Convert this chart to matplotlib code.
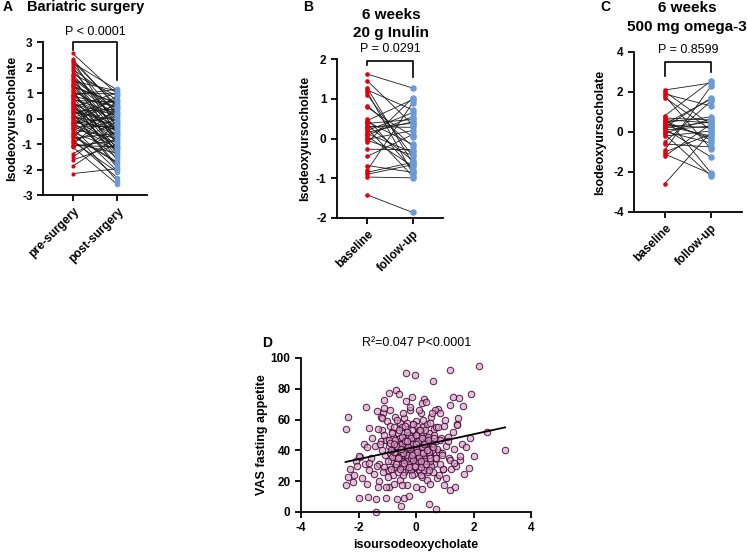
import numpy as np
import matplotlib
matplotlib.use("Agg")
import matplotlib.pyplot as plt

plt.rcParams['font.family'] = ['Liberation Sans', 'DejaVu Sans']
plt.rcParams['font.weight'] = 'bold'
plt.rcParams['axes.labelweight'] = 'bold'
plt.rcParams['axes.unicode_minus'] = False
plt.rcParams['axes.linewidth'] = 1.3

RED = '#e3000f'
BLUE = '#6b9bd6'

# A - bariatric surgery (pre, post pairs)
pre_surgery = [2.55, 2.32, 2.27, 2.18, 2.11, 2.02, 1.93, 1.88, 1.74, 1.66, 1.61, 1.52, 1.47, 1.41, 1.33,
               1.28, 1.19, 1.12, 1.07, 0.98, 0.94, 0.88, 0.83, 0.79, 0.71, 0.66, 0.62, 0.57, 0.49, 0.44,
               0.41, 0.36, 0.29, 0.25, 0.21, 0.14, 0.09, 0.05, 0.01, -0.04, -0.08, -0.13, -0.19, -0.22,
               -0.27, -0.33, -0.38, -0.42, -0.47, -0.55, -0.61, -0.66, -0.72, -0.78, -0.84, -0.91, -0.97,
               -1.02, -1.06, -1.09, -1.12, -1.38, -1.52, -1.63, -1.87, -2.16, 0.53, 0.77, 1.02, 0.18,
               -0.51, 1.71, 0.92, -0.16, 0.68, 1.24, 0.33, -0.29, 0.60, 1.55, -0.70, 0.02, 2.24, -0.90, 1.37]
post_surgery = [0.95, 0.42, -0.35, 1.12, 0.15, -0.62, 0.71, -0.18, 0.88, -1.05, 0.33, -0.47, 1.08, 0.05, -0.83,
                0.58, -0.26, -1.42, 0.21, 0.97, -0.71, 0.47, -1.18, -0.12, 0.64, -0.55, -1.63, 0.12, -0.92, 1.01,
                -0.38, -1.27, 0.36, -0.08, -1.85, 0.78, -0.66, -0.21, -1.08, 0.52, -0.44, -1.56, 0.08, -0.97,
                0.91, -0.31, -2.05, -0.78, 0.27, -1.21, -0.02, -1.71, 0.69, -0.58, -2.32, -0.15, -1.36,
                0.44, -1.11, -0.86, -2.58, -0.52, -0.24, -1.02, -0.73, -1.97, -1.48, 0.18, -0.89, -1.93,
                -2.45, -0.06, 1.15, -0.41, -1.31, 0.61, -0.63, -1.15, -0.33, 0.26, -1.74, 0.74, 0.49, -2.10, -0.57]

# B - 6 weeks 20 g inulin
inulin_base = [1.62, 1.45, 1.27, 1.22, 1.17, 1.10, 0.83, 0.78, 0.50, 0.45, 0.38, 0.33, 0.30, 0.25, 0.20, 0.15,
               0.12, 0.05, -0.02, -0.10, -0.27, -0.45, -0.68, -0.80, -0.85, -0.90, -0.97, -1.42, 0.42, 0.08,
               -0.05, 0.28]
inulin_follow = [1.27, 0.35, -0.62, 0.72, -0.88, -0.45, -0.20, 0.05, -0.78, 0.98, 0.48, -0.55, 0.28, -0.95, 0.65,
                 0.42, -0.35, -0.70, 0.20, 1.02, -0.28, 0.10, -0.85, 0.90, -0.60, -0.66, -0.99, -1.86, -0.15,
                 0.55, -0.42, 0.38]

# C - 6 weeks 500 mg omega-3
omega_base = [2.10, 2.02, 1.90, 1.80, 1.72, 0.82, 0.75, 0.70, 0.62, 0.55, 0.48, 0.40, 0.35, 0.30, 0.22, 0.15,
              0.10, 0.02, -0.05, -0.12, -0.20, -0.50, -0.60, -0.90, -1.00, -1.10, -1.20, -2.58, 0.25, 0.45]
omega_follow = [2.45, 0.35, 1.30, -0.85, 0.10, 2.55, -2.05, 0.60, 0.45, -0.40, 0.75, 1.65, 0.20, -0.20, 0.50,
                -1.25, 0.30, -0.55, 0.65, -2.20, 0.05, 1.55, -0.75, 2.30, -0.10, -2.10, 0.40, 0.00, 1.70, -0.30]

# D - VAS fasting appetite vs isoursodeoxycholate
vas_x = [-1.23, -1.17, -1.08, -1.02, -0.97, -0.93, -0.89, -0.86, -0.81, -0.79, -0.74, -0.71, -0.69, -0.64,
         -0.61, -0.57, -0.55, -0.51, -0.49, -0.46, -0.43, -0.41, -0.38, -0.35, -0.33, -0.29, -0.27, -0.24,
         -0.21, -0.19, -0.17, -0.13, -0.11, -0.08, -0.06, -0.03, -0.01, 0.03, 0.05, 0.07, 0.11, 0.13, 0.16,
         0.19, 0.22, 0.24, 0.27, 0.31, 0.33, 0.37, 0.39, 0.42, 0.46, 0.49, 0.53, 0.57, 0.61, 0.64, 0.69,
         0.72, 0.76, 0.81, 0.87, 0.93, 0.98,
         -1.28, -1.14, -1.05, -0.99, -0.91, -0.84, -0.77, -0.72, -0.66, -0.59, -0.53, -0.48, -0.44, -0.39,
         -0.36, -0.31, -0.26, -0.23, -0.18, -0.15, -0.12, -0.09, -0.04, 0.01, 0.04, 0.09, 0.12, 0.15, 0.18,
         0.21, 0.26, 0.29, 0.34, 0.38, 0.41, 0.44, 0.48, 0.52, 0.56, 0.59, 0.63, 0.67, 0.71, 0.74, 0.79,
         0.84, 0.89, 0.95, 1.04, 1.12,
         -1.19, -1.10, -0.95, -0.83, -0.75, -0.68, -0.62, -0.56, -0.50, -0.45, -0.40, -0.34, -0.28, -0.25,
         -0.20, -0.14, -0.10, -0.05, -0.02, 0.02, 0.06, 0.10, 0.14, 0.17, 0.23, 0.28, 0.32, 0.36, 0.43,
         0.47, 0.55, 0.62, 0.68, 0.75, 0.83, 0.91,
         -1.95, -1.88, -1.82, -1.76, -1.70, -1.62, -1.57, -1.52, -1.46, -1.42, -1.37, -1.33, -1.30, -1.26,
         -1.21, -1.16, -1.13, 1.02, 1.06, 1.10, 1.15, 1.21, 1.27, 1.32, 1.38, 1.44, 1.52, 1.60, 1.68,
         -2.15, -2.10, 1.75,
         2.18, 1.17, -0.35, -0.02, 0.58, -0.68, -0.95, -0.60, 1.92, 1.28, 1.48, -0.14, -0.35, 0.29, 0.20,
         1.19, 1.62, -1.75, -1.10, 0.67, 0.82, -2.36, -1.36, 1.47, 1.42, -2.42, -1.62, 2.46, 1.89, 3.10,
         2.00, 1.54, 1.19, 1.33, 1.83, 1.19, 1.35, 0.96, -2.45, -2.36, -2.19, -2.05, -2.31, -1.97, -1.65,
         -1.97, -1.66, -1.38, -1.04, -1.39, -0.52, -0.41, -0.66, -0.24, 0.46, 0.69, 0.21, 0.00, -0.31,
         0.50, -0.95, -1.06, -1.33, -1.70, -0.75, -0.47,
         -0.90, -0.45, 0.10, 0.35, -0.20, 0.55, -1.20, -1.12,
         -0.98, -0.92, -0.87, -0.83, -0.78, -0.73, -0.70, -0.65, -0.60, -0.58, -0.54, -0.50, -0.47, -0.42,
         -0.39, -0.37, -0.32, -0.30, -0.25, -0.22, -0.19, -0.16, -0.12, -0.07, -0.05, -0.01, 0.02, 0.06,
         0.08, 0.12, 0.14, 0.18, 0.20, 0.25, 0.30, 0.35, 0.40, 0.44, 0.50, 0.58, -0.88, -0.63, -0.44,
         -0.27, -0.09, 0.04, 0.16, 0.27, 0.45, -0.76, -0.52, -0.33, -0.15, 0.00, 0.22, 0.37]
vas_y = [46, 53, 37, 59, 27, 43, 56, 33, 24, 49, 62, 35, 29, 51, 44, 21, 58, 39, 31, 47, 26, 61, 41, 34,
         54, 45, 28, 37, 66, 50, 30, 42, 57, 25, 36, 47, 59, 32, 41, 52, 28, 38, 64, 44, 23, 55, 35, 48,
         29, 57, 40, 26, 51, 37, 62, 43, 31, 54, 46, 22, 67, 39, 48, 28, 56,
         31, 64, 47, 23, 38, 52, 41, 29, 60, 45, 35, 55, 24, 49, 39, 58, 33, 44, 27, 53, 40, 48, 31, 43,
         56, 36, 27, 47, 52, 39, 60, 33, 43, 21, 49, 37, 58, 30, 45, 26, 50, 35, 55, 41, 24, 47, 38, 28,
         43, 49,
         40, 29, 47, 36, 55, 42, 26, 48, 37, 30, 56, 43, 35, 50, 45, 24, 57, 40, 29, 37, 45, 53, 33, 24,
         43, 27, 53, 46, 41, 33, 40, 48, 35, 55, 31, 37,
         36, 22, 44, 31, 42, 27, 35, 48, 25, 43, 30, 54, 20, 44, 62, 26, 50, 60, 22, 46, 35, 28, 52, 41,
         30, 57, 34, 44, 25, 24, 33, 42,
         95, 92, 90, 88.7, 85.2, 78.9, 77.2, 76.5, 76.5, 75, 74.3, 75, 72.4, 73.3, 70.7, 69.6, 68.9, 68.3,
         67.8, 66.3, 64.1, 62, 65.7, 61.3, 56.5, 53.7, 54.3, 51.7, 48.3, 40.2, 36.5, 36.5, 33.7, 31.5,
         28.7, 14.6, 16.3, 17.4, 17.6, 22.8, 19.6, 30, 27.8, 36.3, 31.5, 9.3, 9.8, 8.3, 9.3, 0.2, 3.9,
         9.3, 8.3, 10.4, 5, 2.2, 15.2, 16.3, 17.4, 18, 16.3, 16.3, 16.3, 18.5, 18.5, 17.4,
         66, 64, 66, 71.5, 68, 64.5, 60.8, 72.8,
         33, 45, 28, 51, 39, 47, 31, 43, 53, 36, 28, 44, 49, 32, 40, 46, 37, 52, 29, 41, 35, 48, 44, 38,
         30, 50, 41, 33, 46, 36, 53, 29, 42, 38, 45, 31, 47, 39, 35, 42, 40, 35, 38, 42, 34, 39, 33, 44,
         27, 44, 41, 46, 37, 44, 48, 40]
fit_slope = 4.05
fit_intercept = 42.4

W, H = 747, 553
fig = plt.figure(figsize=(W / 100, H / 100), dpi=100)


def box(l, t, r, b):
    return [l / W, 1 - b / H, (r - l) / W, (b - t) / H]


def ftext(x, y, s, **kw):
    fig.text(x / W, 1 - y / H, s, va='center', **kw)


def style(ax):
    ax.spines['top'].set_visible(False)
    ax.spines['right'].set_visible(False)
    ax.tick_params(width=1.3, length=4, labelsize=8.5)


def paired(ax, before, after, labels, ylim, yticks, red_s, blue_s):
    for b, a in zip(before, after):
        ax.plot([0, 1], [b, a], color='#1a1a1a', lw=0.6, zorder=1)
    ax.scatter(np.zeros(len(before)), before, s=red_s, color=RED, lw=0, zorder=3, clip_on=False)
    ax.scatter(np.ones(len(after)), after, s=blue_s, color=BLUE, lw=0, zorder=3, clip_on=False)
    ax.set_xlim(-0.67, 1.67)
    ax.set_ylim(ylim)
    ax.set_yticks(yticks)
    ax.set_xticks([0, 1])
    ax.set_xticklabels(labels, rotation=45, ha='right', rotation_mode='anchor')
    ax.set_ylabel('Isodeoxyursocholate', fontsize=9)
    style(ax)


def bracket(ax, left, top, right, ptxt, ptxt_y):
    ax.plot([0, 0, 1, 1], [left, top, top, right], color='black', lw=1.2, clip_on=False)
    ax.text(0.5, ptxt_y, ptxt, ha='center', va='center', fontsize=9, fontweight='normal')


# panel A
axA = fig.add_axes(box(43, 42, 147, 195))
paired(axA, pre_surgery, post_surgery, ['pre-surgery', 'post-surgery'], (-3, 3), range(-3, 4), 9, 16)
bracket(axA, 2.7, 3.0, 1.5, 'P < 0.0001', 3.39)
axA.yaxis.set_label_coords(-0.24, 0.5)
ftext(3, 7, 'A', fontsize=10)
ftext(27, 7, 'Bariatric surgery', fontsize=10.5)

# panel B
axB = fig.add_axes(box(337, 59, 443, 218))
paired(axB, inulin_base, inulin_follow, ['baseline', 'follow-up'], (-2, 2), range(-2, 3), 11, 22)
bracket(axB, 1.85, 1.95, 1.55, 'P = 0.0291', 2.25)
axB.yaxis.set_label_coords(-0.245, 0.5)
ftext(303, 7, 'B', fontsize=10)
ftext(391, 15, '6 weeks', fontsize=11, ha='center')
ftext(391, 33, '20 g Inulin', fontsize=11, ha='center')

# panel C
axC = fig.add_axes(box(634, 52, 742, 212))
paired(axC, omega_base, omega_follow, ['baseline', 'follow-up'], (-4, 4), range(-4, 5, 2), 11, 22)
bracket(axC, 2.8, 3.52, 3.0, 'P = 0.8599', 4.1)
axC.yaxis.set_label_coords(-0.26, 0.5)
ftext(600, 7, 'C', fontsize=10)
ftext(687, 8, '6 weeks', fontsize=11, ha='center')
ftext(687, 27, '500 mg omega-3', fontsize=11, ha='center')

# panel D
axD = fig.add_axes(box(301, 358, 531, 512))
axD.scatter(vas_x, vas_y, s=22, facecolor=(0.86, 0.62, 0.80, 0.65), edgecolor=(0.24, 0.04, 0.18, 0.9),
            lw=0.7, zorder=2, clip_on=False)
xs = np.array([min(vas_x), max(vas_x)])
axD.plot(xs, fit_intercept + fit_slope * xs, color='black', lw=1.3, zorder=3)
axD.set_xlim(-4, 4)
axD.set_ylim(0, 100)
axD.set_xticks(range(-4, 5, 2))
axD.set_yticks(range(0, 101, 20))
axD.set_xlabel('isoursodeoxycholate', fontsize=9)
axD.set_ylabel('VAS fasting appetite', fontsize=9)
axD.xaxis.set_label_coords(0.5, -0.175)
axD.yaxis.set_label_coords(-0.143, 0.5)
style(axD)
ftext(262, 343, 'D', fontsize=10)
ftext(417, 343, 'R\u00b2=0.047 P<0.0001', fontsize=9, ha='center', fontweight='normal')

fig.savefig('out.png', dpi=100)
